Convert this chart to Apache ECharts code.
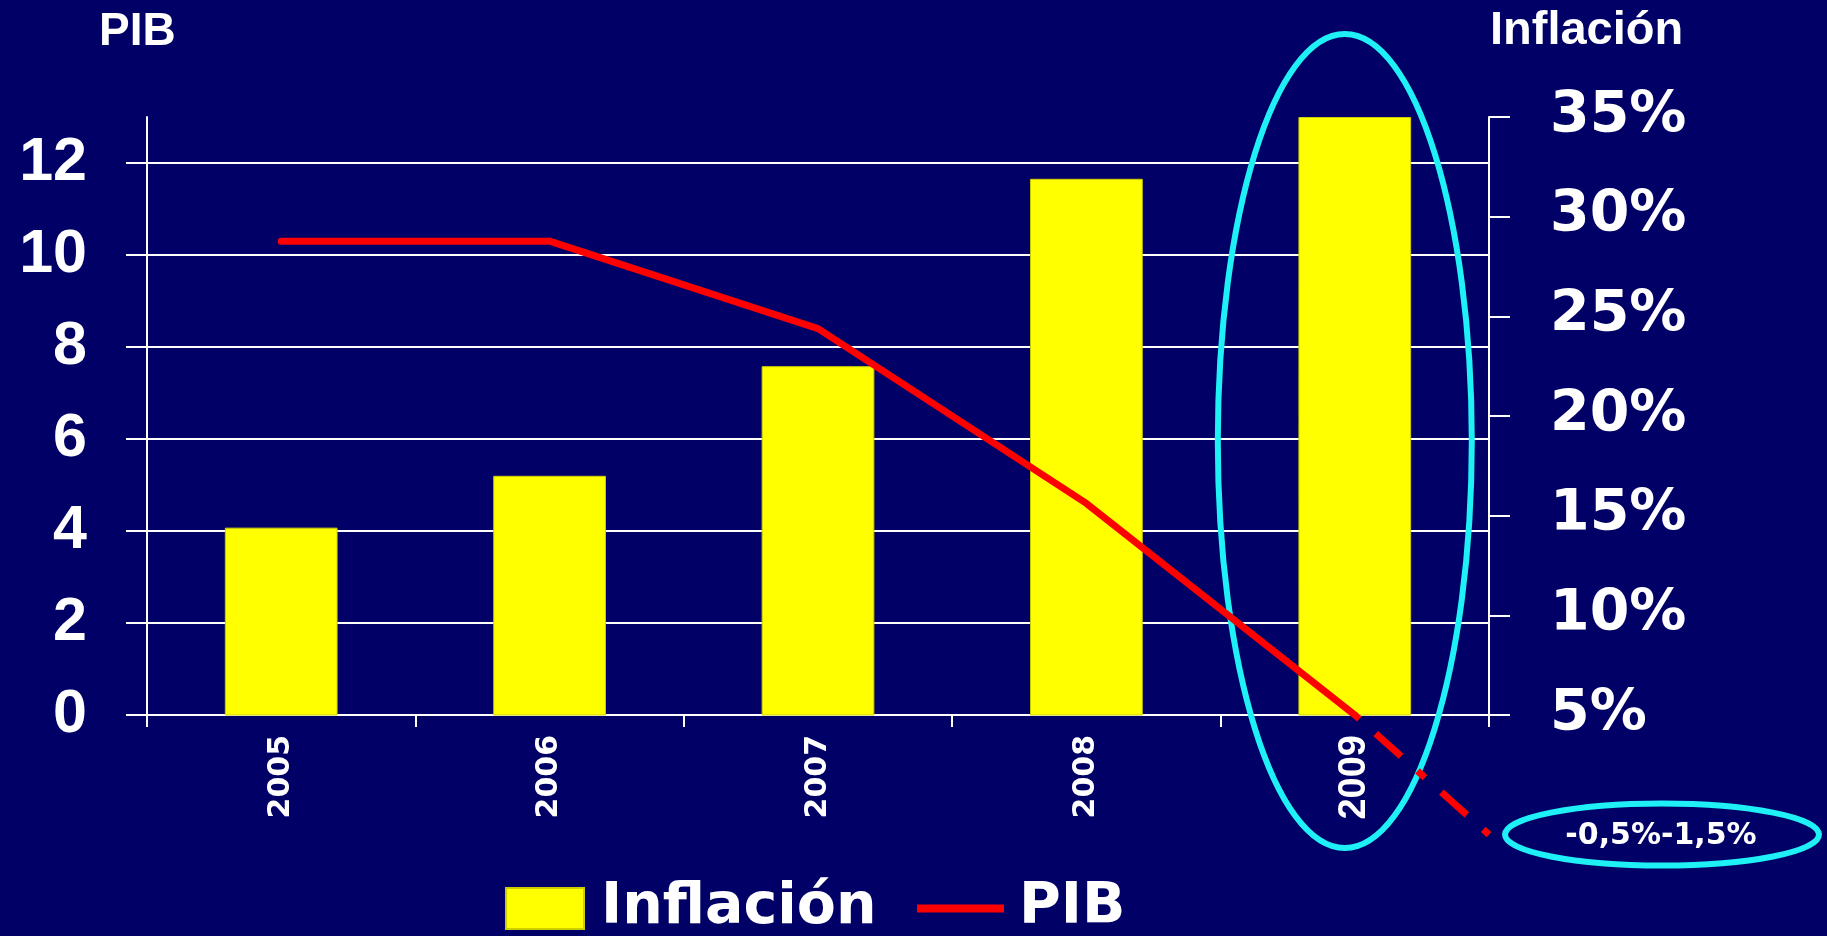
<!DOCTYPE html>
<html><head><meta charset="utf-8">
<script src="https://cdn.jsdelivr.net/npm/echarts@6/dist/echarts.min.js"></script>
<style>html,body{margin:0;padding:0;background:#000066;}#c{width:1827px;height:936px;}</style>
</head><body><div id="c"></div>
<script>
// ---- data ----
const years = ['2005', '2006', '2007', '2008', '2009'];
const inflacion = [14.4, 17.0, 22.5, 31.9, 35.0];   // % (right axis)
const pib = [10.3, 10.3, 8.4, 4.6, 0];             // % (left axis)
const pibProjection = -2.6;                        // dashed projection end (left axis units)
const pibTicks = [0, 2, 4, 6, 8, 10, 12];
const projectionLabel = '-0,5%-1,5%';

const WHITE = '#ffffff';
const chart = echarts.init(document.getElementById('c'), null, {renderer: 'canvas'});

const titles = [
  {type: 'text', left: 99, top: 9, style: {text: 'PIB', fill: WHITE, font: 'bold 46px "Liberation Sans"'}},
  {type: 'text', left: 1490, top: 8, style: {text: 'Inflación', fill: WHITE, font: 'bold 47px "Liberation Sans"'}}
];

const option = {
  backgroundColor: '#000066',
  animation: false,
  grid: {left: 147, right: 338, top: 117, bottom: 221, containLabel: false},
  legend: [
    {
      data: [{name: 'Inflación', icon: 'rect'}],
      left: 505, top: 880, padding: 0, itemWidth: 78, itemHeight: 41,
      selectedMode: false,
      textStyle: {color: WHITE, fontFamily: 'DejaVu Sans', fontWeight: 'bold', fontSize: 57, padding: [0, 0, 0, 12]}
    },
    {
      data: [{name: 'PIB', icon: 'rect'}],
      left: 917, top: 880, padding: 0, itemWidth: 87, itemHeight: 8,
      selectedMode: false,
      textStyle: {color: WHITE, fontFamily: 'DejaVu Sans', fontWeight: 'bold', fontSize: 57, padding: [0, 0, 0, 10]}
    }
  ],
  xAxis: {
    type: 'category', data: years, boundaryGap: true,
    axisLine: {show: true, lineStyle: {color: WHITE, width: 2}},
    axisTick: {show: true, length: 12, inside: false, lineStyle: {color: WHITE, width: 2}},
    axisLabel: {
      rotate: 90, margin: 20, color: WHITE, interval: 0,
      formatter: v => (v === '2009' ? '{b|' + v + '}' : '{a|' + v + '}'),
      rich: {
        a: {fontFamily: 'DejaVu Sans', fontWeight: 'bold', fontSize: 30, color: WHITE},
        b: {fontFamily: 'Liberation Sans', fontWeight: 'bold', fontSize: 38, color: WHITE}
      }
    },
    splitLine: {show: false}
  },
  yAxis: [
    {
      type: 'value', min: 0, max: 13, position: 'left',
      axisLine: {show: true, lineStyle: {color: WHITE, width: 2}},
      axisTick: {show: true, length: 21, customValues: pibTicks, lineStyle: {color: WHITE, width: 2}},
      axisLabel: {customValues: pibTicks, color: WHITE, fontFamily: 'Liberation Sans', fontWeight: 'bold', fontSize: 61, margin: 60},
      splitLine: {show: true, lineStyle: {color: WHITE, width: 2}}
    },
    {
      type: 'value', min: 5, max: 35, interval: 5, position: 'right',
      axisLine: {show: true, lineStyle: {color: WHITE, width: 2}},
      axisTick: {show: true, length: 21, lineStyle: {color: WHITE, width: 2}},
      axisLabel: {formatter: '{value}%', color: WHITE, fontFamily: 'DejaVu Sans', fontWeight: 'bold', fontSize: 57, margin: 61},
      splitLine: {show: false}
    }
  ],
  series: [
    {
      name: 'Inflación', type: 'bar', yAxisIndex: 1, data: inflacion,
      barWidth: '42%', clip: true,
      itemStyle: {color: '#ffff00', borderColor: '#cccc00', borderWidth: 1}
    },
    {
      name: 'PIB', type: 'line', yAxisIndex: 0, data: pib,
      symbol: 'none', z: 4,
      lineStyle: {color: '#ff0000', width: 7, cap: 'round', join: 'round'},
      itemStyle: {color: '#ff0000'}
    }
  ],
  graphic: titles
};
chart.setOption(option);

// annotation: dashed projection + ellipses anchored on the 2009 PIB point
const pEnd = chart.convertToPixel({seriesIndex: 1}, [years.length - 1, pib[pib.length - 1]]);
const pPrev = chart.convertToPixel({seriesIndex: 1}, [years.length - 2, pib[pib.length - 1]]);
const band = pEnd[0] - pPrev[0];
const projY = chart.convertToPixel({seriesIndex: 1}, [years.length - 1, pibProjection])[1];
const projEnd = [pEnd[0] + band / 2, projY];
const cyan = '#1ef0f5';

chart.setOption({
  graphic: titles.concat([
    {
      type: 'ellipse', z: 1,
      shape: {cx: pEnd[0] - 10, cy: 441, rx: 127, ry: 407},
      style: {fill: 'none', stroke: cyan, lineWidth: 6}
    },
    {
      type: 'line', z: 10,
      shape: {x1: pEnd[0], y1: pEnd[1], x2: projEnd[0], y2: projEnd[1]},
      style: {stroke: '#ff0000', lineWidth: 7, lineDash: [34, 22, 10, 22], lineDashOffset: 60, lineCap: 'butt'}
    },
    {
      type: 'ellipse', z: 1,
      shape: {cx: projEnd[0] + 173, cy: projEnd[1], rx: 157, ry: 31},
      style: {fill: 'none', stroke: cyan, lineWidth: 6}
    },
    {
      type: 'text', z: 11,
      x: projEnd[0] + 172, y: projEnd[1] + 2,
      style: {text: projectionLabel, fill: WHITE, font: 'bold 30px "DejaVu Sans"', align: 'center', verticalAlign: 'middle'}
    }
  ])
}, {replaceMerge: ['graphic']});
</script>
</body></html>
